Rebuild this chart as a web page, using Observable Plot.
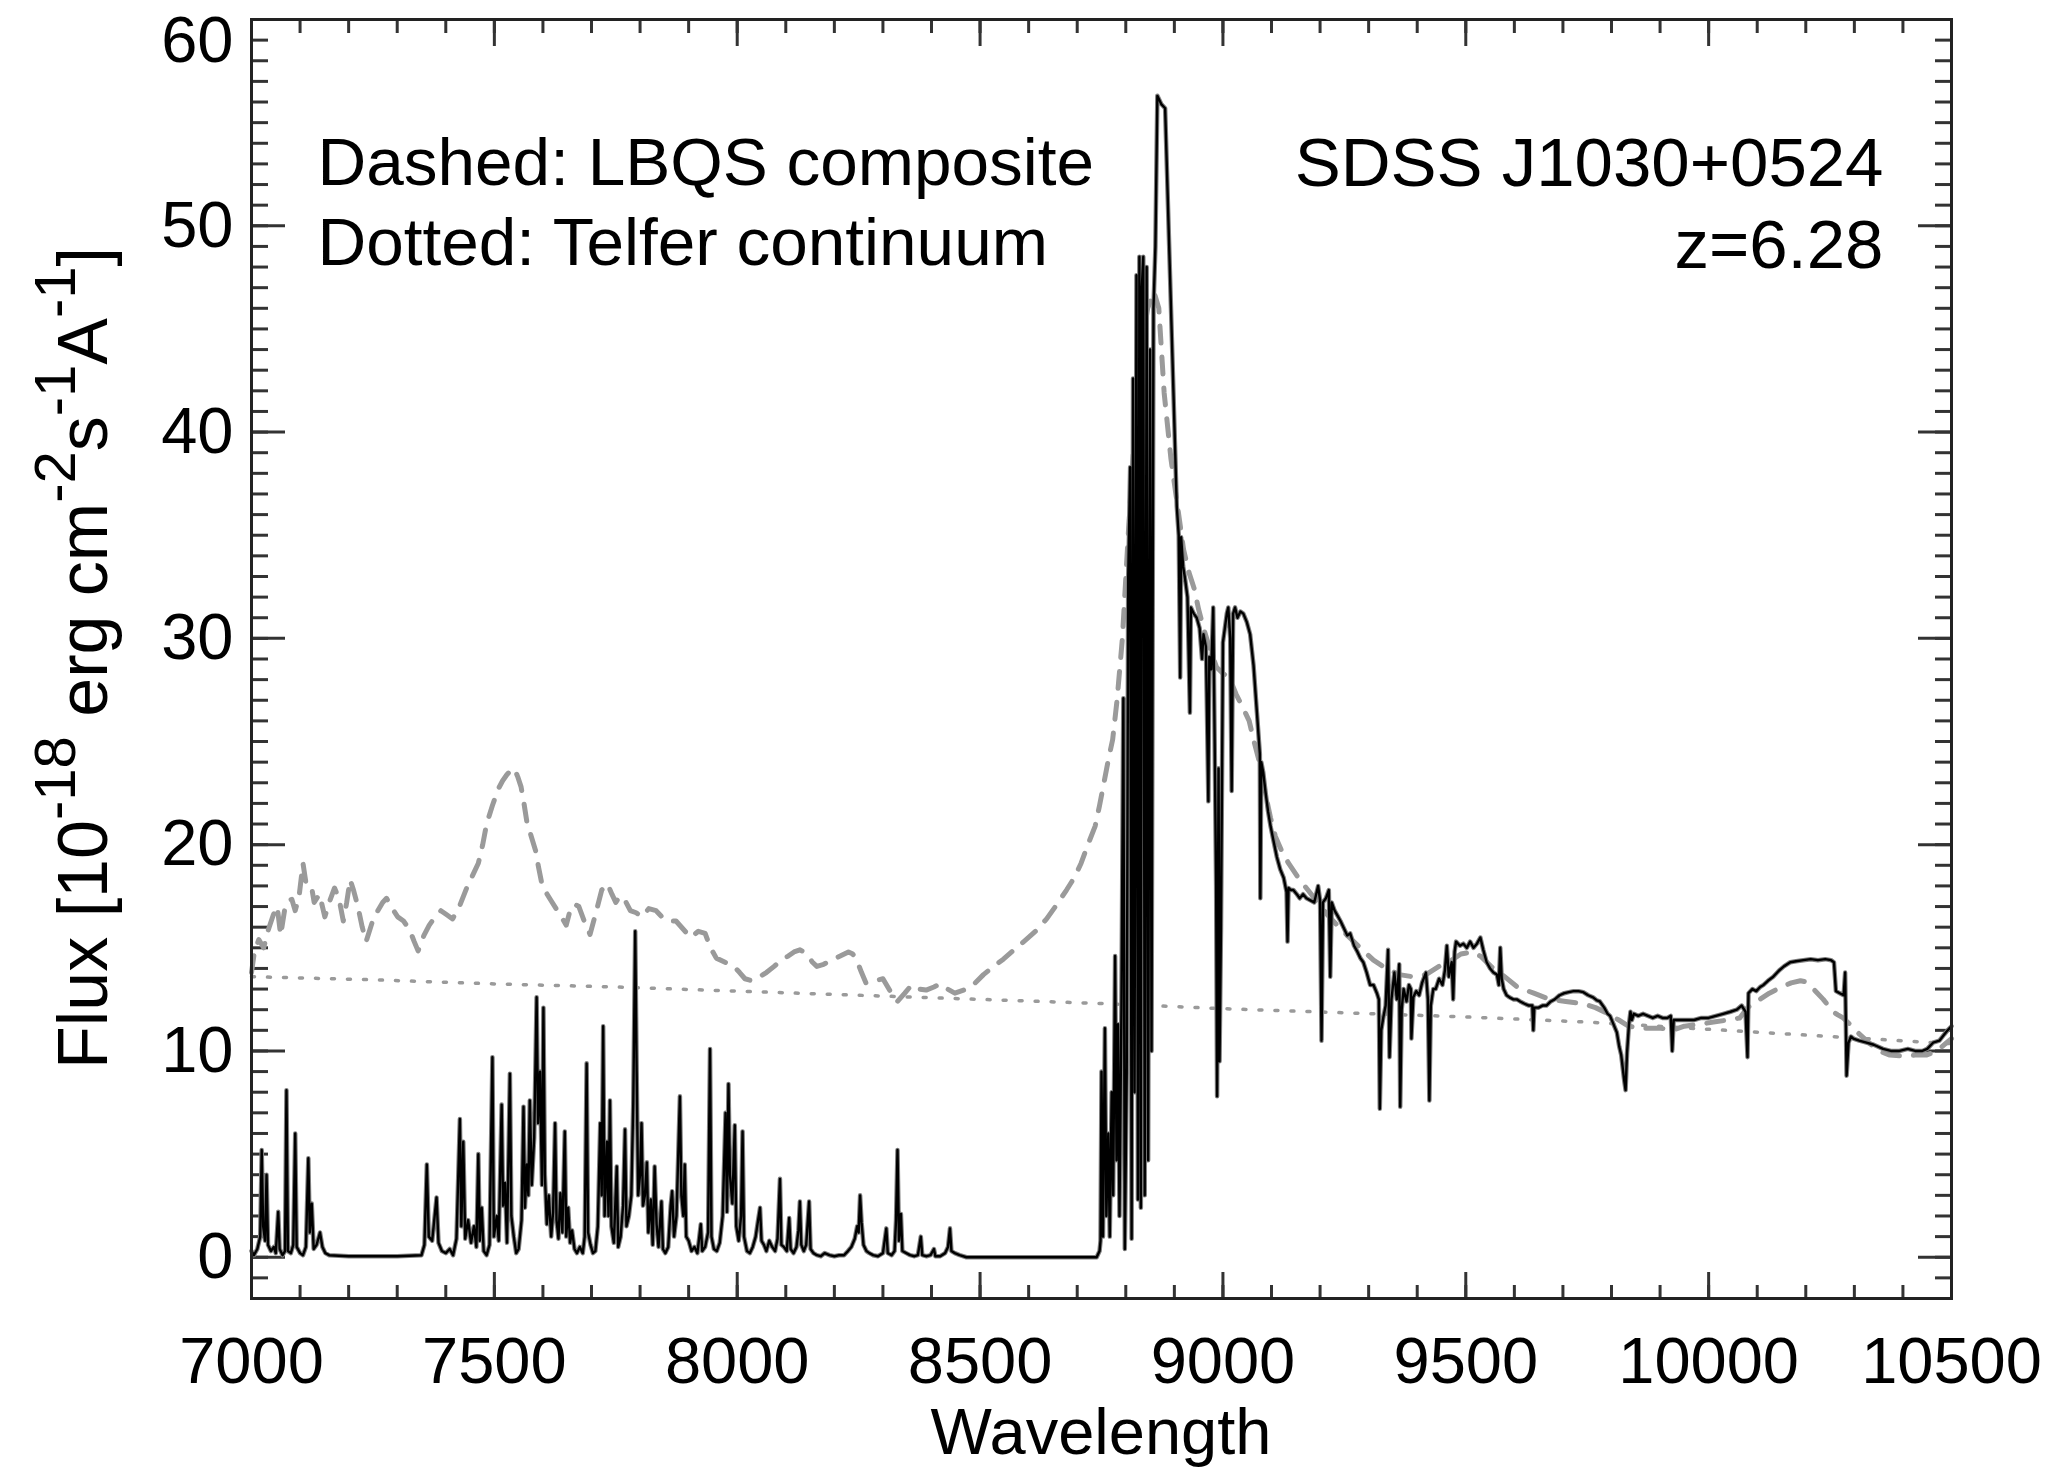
<!DOCTYPE html>
<html>
<head>
<meta charset="utf-8">
<script src="https://cdn.jsdelivr.net/npm/d3@7"></script>
<script src="https://cdn.jsdelivr.net/npm/@observablehq/plot@0.6"></script>
<style>
  html, body { margin: 0; padding: 0; background: #fff; }
  #chart svg { display: block; }
</style>
</head>
<body>
<div id="chart"></div>
<script>
// Observed spectrum of SDSS J1030+0524: [wavelength (Å), flux (1e-18 erg/cm²/s/Å)]
const spectrum = [
  [7000,0.3],[7005,0.1],[7012,0.4],[7018,1.0],[7021,5.2],[7024,1.5],[7028,0.8],[7031,4.0],[7034,0.6],[7040,0.3],
  [7046,0.5],[7050,0.2],[7055,2.2],[7058,0.4],[7064,0.1],[7069,0.3],[7072,8.1],[7075,0.3],[7081,0.2],[7086,0.6],
  [7090,6.0],[7093,0.5],[7100,0.2],[7106,0.1],[7112,0.5],[7117,4.8],[7120,1.2],[7124,2.6],[7128,0.4],[7134,0.6],
  [7141,1.2],[7146,0.5],[7152,0.2],[7160,0.1],[7200,0.05],[7250,0.05],[7300,0.05],[7350,0.1],[7356,0.6],[7361,4.5],
  [7365,1.0],[7372,0.8],[7381,2.9],[7385,0.7],[7392,0.3],[7400,0.2],[7408,0.4],[7415,0.1],[7422,0.9],[7429,6.7],
  [7432,1.5],[7436,5.6],[7440,0.9],[7446,1.8],[7452,0.7],[7458,1.5],[7463,0.5],[7467,5.0],[7470,0.8],[7474,2.4],
  [7478,0.3],[7484,0.1],[7490,0.6],[7496,9.7],[7499,1.0],[7505,2.0],[7509,0.8],[7515,7.4],[7518,2.5],[7522,3.6],
  [7526,0.7],[7532,8.9],[7535,2.0],[7540,1.0],[7545,0.2],[7550,0.4],[7556,1.8],[7560,7.3],[7563,2.4],[7567,4.5],
  [7570,3.0],[7573,7.6],[7577,3.5],[7582,5.8],[7587,12.6],[7590,6.5],[7594,9.0],[7598,3.5],[7601,12.1],[7604,4.0],
  [7608,1.6],[7612,3.0],[7617,1.0],[7621,2.2],[7625,6.5],[7628,1.8],[7632,0.9],[7636,3.1],[7640,1.2],[7645,6.1],
  [7648,1.0],[7652,2.4],[7656,0.7],[7660,1.3],[7665,0.4],[7670,0.2],[7676,0.5],[7682,0.2],[7686,1.0],[7690,9.4],
  [7693,1.2],[7698,0.6],[7703,0.2],[7708,0.3],[7713,1.5],[7718,6.5],[7721,3.0],[7724,11.2],[7727,2.0],[7732,5.6],
  [7735,2.0],[7738,7.6],[7741,1.5],[7746,0.7],[7752,4.4],[7755,0.5],[7760,1.0],[7765,2.5],[7769,6.2],[7772,1.5],
  [7777,2.0],[7782,3.0],[7786,7.5],[7790,15.8],[7793,9.0],[7796,3.0],[7800,4.0],[7803,6.5],[7806,2.5],[7810,3.0],
  [7814,4.6],[7817,1.2],[7822,2.8],[7826,0.6],[7830,4.4],[7834,1.6],[7838,0.5],[7844,2.7],[7847,0.4],[7852,0.2],
  [7858,0.5],[7863,2.5],[7866,3.2],[7870,1.0],[7875,2.0],[7882,7.8],[7885,3.0],[7889,2.0],[7892,4.5],[7895,1.0],
  [7900,0.8],[7906,0.3],[7912,0.5],[7918,0.2],[7925,1.6],[7928,0.3],[7934,0.5],[7940,1.2],[7944,10.1],[7947,1.0],
  [7952,0.4],[7958,0.3],[7964,0.7],[7970,2.0],[7976,7.0],[7979,2.2],[7982,8.4],[7985,4.0],[7990,2.6],[7995,6.4],
  [7998,1.5],[8003,0.8],[8008,2.0],[8011,6.1],[8014,1.0],[8020,0.3],[8026,0.2],[8032,0.5],[8038,1.0],[8043,1.8],
  [8047,2.4],[8050,0.8],[8055,0.6],[8060,0.3],[8066,0.8],[8072,0.5],[8078,0.3],[8083,0.9],[8088,3.8],[8091,0.6],
  [8096,0.5],[8102,0.3],[8107,1.9],[8110,0.4],[8116,0.2],[8122,0.5],[8126,1.3],[8129,2.7],[8132,0.6],[8137,0.3],
  [8142,0.6],[8148,2.7],[8151,0.4],[8157,0.2],[8164,0.1],[8172,0.05],[8180,0.2],[8190,0.1],[8200,0.05],[8210,0.1],
  [8220,0.1],[8228,0.3],[8235,0.5],[8242,0.9],[8247,1.5],[8250,1.2],[8253,3.0],[8256,1.7],[8260,0.6],[8266,0.3],
  [8272,0.2],[8280,0.1],[8290,0.05],[8300,0.2],[8307,1.4],[8310,0.2],[8318,0.1],[8324,0.3],[8327,1.8],[8330,5.2],
  [8333,0.8],[8337,2.1],[8340,0.3],[8348,0.2],[8356,0.1],[8365,0.05],[8372,0.1],[8378,1.0],[8381,0.1],[8390,0.05],
  [8398,0.1],[8405,0.4],[8408,0.05],[8418,0.05],[8428,0.2],[8434,0.5],[8438,1.4],[8441,0.3],[8448,0.2],[8458,0.1],
  [8472,0],[8500,0],[8600,0],[8700,0],[8740,0],[8746,0.3],[8748,0.8],[8750,9.0],[8753,1.0],[8757,11.1],
  [8760,2.0],[8764,6.0],[8767,1.0],[8771,8.0],[8774,3.0],[8778,14.6],[8781,4.7],[8784,11.3],[8787,2.0],[8791,12.0],
  [8795,27.1],[8798,0.4],[8802,9.0],[8805,33.0],[8809,38.3],[8812,0.9],[8815,42.6],[8818,8.0],[8822,47.6],[8825,2.8],
  [8828,48.5],[8831,2.4],[8833,47.0],[8836,48.5],[8839,3.0],[8843,48.0],[8846,4.7],[8850,44.0],[8853,10.0],[8857,46.0],
  [8861,49.0],[8865,56.3],[8873,55.9],[8881,55.7],[8905,36.4],[8909,35.0],[8912,28.1],[8914,34.9],[8918,33.5],[8922,32.9],
  [8927,32.0],[8932,26.4],[8934,31.5],[8940,31.2],[8946,31.0],[8952,30.5],[8957,29.0],[8960,30.2],[8965,29.6],[8970,22.1],
  [8972,29.1],[8976,28.5],[8980,31.5],[8983,25.0],[8986,18.0],[8988,7.8],[8991,23.7],[8993,9.5],[8996,16.0],[9000,29.8],
  [9004,30.5],[9008,31.2],[9011,31.5],[9015,30.0],[9018,22.6],[9021,31.2],[9025,31.5],[9030,31.0],[9036,31.3],[9042,31.2],
  [9049,30.8],[9056,30.2],[9063,28.7],[9070,26.4],[9076,24.4],[9077,17.4],[9079,24.0],[9083,23.5],[9088,22.5],[9093,21.6],
  [9098,20.9],[9104,20.2],[9111,19.4],[9118,18.8],[9125,18.4],[9131,17.7],[9133,15.3],[9135,17.9],[9140,17.8],[9145,17.8],
  [9152,17.6],[9158,17.4],[9165,17.6],[9172,17.4],[9180,17.3],[9188,17.2],[9196,18.0],[9200,17.3],[9203,10.5],[9206,17.2],
  [9212,17.4],[9218,17.8],[9221,13.6],[9224,17.2],[9230,16.8],[9235,16.6],[9242,16.3],[9250,15.9],[9256,15.6],[9262,15.7],
  [9270,15.1],[9277,14.8],[9283,14.5],[9289,14.3],[9296,13.8],[9303,13.2],[9310,13.2],[9317,12.8],[9321,12.5],[9323,7.2],
  [9326,11.0],[9330,11.6],[9335,12.2],[9340,14.9],[9343,9.7],[9347,12.5],[9353,13.8],[9358,12.5],[9363,14.2],[9365,7.3],
  [9368,12.0],[9372,13.0],[9378,12.4],[9383,13.2],[9387,13.0],[9388,10.6],[9392,12.6],[9398,12.9],[9404,12.7],[9410,13.3],
  [9418,13.8],[9422,12.5],[9425,7.6],[9428,12.2],[9433,13.0],[9438,13.0],[9445,13.5],[9452,13.2],[9457,13.9],[9461,15.1],
  [9465,13.6],[9471,14.3],[9474,12.5],[9477,14.8],[9480,15.3],[9488,15.1],[9495,15.2],[9502,15.0],[9509,15.3],[9516,15.0],
  [9523,15.2],[9530,15.5],[9536,14.9],[9543,14.3],[9550,14.0],[9557,13.8],[9564,13.7],[9568,13.2],[9571,15.0],[9574,13.5],
  [9578,13.0],[9584,12.7],[9590,12.6],[9598,12.5],[9605,12.5],[9612,12.4],[9620,12.3],[9630,12.2],[9637,12.2],[9639,11.0],
  [9641,12.1],[9650,12.1],[9658,12.2],[9666,12.2],[9675,12.4],[9683,12.5],[9693,12.7],[9703,12.8],[9712,12.85],[9722,12.9],
  [9732,12.9],[9742,12.85],[9752,12.7],[9762,12.6],[9770,12.45],[9776,12.4],[9785,12.1],[9792,11.8],[9797,11.7],[9804,11.3],
  [9811,10.9],[9816,10.2],[9820,9.8],[9823,9.2],[9826,8.6],[9829,8.1],[9832,9.9],[9836,11.3],[9839,11.9],[9842,11.5],
  [9846,11.8],[9855,11.7],[9865,11.8],[9875,11.7],[9885,11.6],[9895,11.7],[9905,11.6],[9915,11.6],[9922,11.7],[9925,10.0],
  [9928,11.5],[9940,11.5],[9955,11.5],[9970,11.5],[9985,11.6],[10000,11.6],[10015,11.7],[10030,11.8],[10045,11.9],[10058,12.0],
  [10068,12.2],[10076,11.9],[10080,9.7],[10082,12.8],[10090,13.0],[10098,12.9],[10106,13.1],[10113,13.2],[10122,13.4],[10133,13.6],
  [10145,13.9],[10155,14.1],[10168,14.3],[10180,14.35],[10195,14.4],[10210,14.45],[10225,14.4],[10240,14.45],[10252,14.4],[10258,14.3],
  [10262,12.9],[10270,12.8],[10278,12.7],[10281,13.8],[10284,8.8],[10288,10.4],[10293,10.7],[10298,10.6],[10310,10.5],[10325,10.4],
  [10340,10.3],[10359,10.1],[10375,10.0],[10393,10.0],[10410,10.1],[10425,10.0],[10440,10.0],[10450,10.1],[10462,10.4],[10475,10.5],
  [10485,10.8],[10492,11.0],[10500,11.2]
];

// LBQS composite quasar spectrum, redshifted and scaled
const lbqsComposite = [
  [7000,13.8],[7006,14.8],[7015,15.4],[7025,15.0],[7035,15.9],[7045,16.6],[7053,17.0],[7060,15.6],[7068,16.8],[7076,17.3],
  [7083,17.35],[7090,16.8],[7098,17.5],[7106,19.1],[7113,18.0],[7124,17.9],[7129,17.2],[7140,17.6],[7151,16.5],[7160,17.2],
  [7171,17.9],[7180,17.4],[7189,16.3],[7196,17.2],[7203,18.3],[7210,17.8],[7219,17.0],[7228,16.0],[7236,15.3],[7248,16.2],
  [7260,16.8],[7270,17.2],[7278,17.4],[7290,16.9],[7301,16.5],[7313,16.3],[7325,15.9],[7335,15.3],[7343,14.85],[7355,15.6],
  [7366,16.1],[7378,16.5],[7390,16.8],[7402,16.6],[7414,16.4],[7428,17.0],[7443,17.9],[7455,18.5],[7467,19.1],[7476,20.0],
  [7484,21.0],[7496,21.9],[7508,22.7],[7517,23.1],[7526,23.4],[7534,23.6],[7541,23.7],[7548,23.3],[7555,22.8],[7561,22.0],
  [7567,21.1],[7576,20.4],[7585,19.7],[7591,18.9],[7597,18.2],[7606,17.7],[7615,17.35],[7627,16.9],[7638,16.5],[7648,16.1],
  [7658,17.0],[7666,17.1],[7674,17.0],[7685,16.3],[7697,15.65],[7709,16.7],[7721,17.8],[7733,18.1],[7742,17.6],[7750,17.2],
  [7758,17.5],[7768,17.35],[7780,16.8],[7792,16.7],[7804,16.5],[7818,16.9],[7833,16.8],[7845,16.5],[7857,16.3],[7874,16.3],
  [7889,15.9],[7904,15.5],[7920,15.8],[7934,15.7],[7945,15.0],[7957,14.5],[7975,14.3],[7993,14.1],[8005,13.8],[8016,13.5],
  [8030,13.4],[8046,13.6],[8060,13.8],[8076,14.1],[8090,14.4],[8105,14.6],[8117,14.8],[8129,14.9],[8138,14.8],[8146,14.6],
  [8155,14.3],[8164,14.1],[8178,14.2],[8194,14.4],[8212,14.6],[8229,14.8],[8238,14.7],[8246,14.4],[8256,13.8],[8265,13.3],
  [8282,13.4],[8300,13.5],[8315,12.9],[8330,12.4],[8345,12.8],[8359,13.2],[8375,13.0],[8389,12.95],[8405,13.1],[8418,13.25],
  [8433,13.0],[8448,12.8],[8460,12.9],[8472,13.0],[8490,13.3],[8507,13.7],[8528,14.1],[8548,14.45],[8570,14.9],[8590,15.3],
  [8614,15.8],[8637,16.4],[8658,17.1],[8678,17.8],[8694,18.4],[8708,19.1],[8722,20.0],[8737,20.9],[8746,21.9],[8755,23.0],
  [8764,24.1],[8773,25.1],[8782,27.0],[8793,30.0],[8805,35.0],[8818,40.0],[8832,44.0],[8845,46.0],[8858,46.8],[8868,46.0],
  [8879,41.9],[8893,38.7],[8906,36.5],[8919,34.3],[8930,33.2],[8941,32.4],[8950,31.4],[8960,30.5],[8973,29.5],[8987,28.6],
  [9000,28.3],[9013,28.1],[9027,27.3],[9040,26.7],[9054,26.0],[9064,25.0],[9073,24.2],[9081,23.2],[9089,22.3],[9098,21.3],
  [9108,20.4],[9121,19.7],[9135,19.1],[9155,18.4],[9175,17.8],[9195,17.2],[9215,16.6],[9235,16.1],[9256,15.6],[9283,15.0],
  [9310,14.4],[9336,14.0],[9363,13.7],[9390,13.6],[9418,13.7],[9445,14.1],[9471,14.4],[9490,14.7],[9512,14.8],[9530,14.6],
  [9552,14.1],[9580,13.6],[9606,13.1],[9640,12.8],[9673,12.5],[9706,12.4],[9740,12.3],[9767,12.1],[9794,11.8],[9815,11.5],
  [9835,11.2],[9860,11.1],[9880,11.1],[9902,11.1],[9925,11.0],[9950,11.2],[9983,11.3],[10010,11.4],[10040,11.5],[10064,11.6],
  [10080,12.1],[10099,12.4],[10125,12.8],[10150,13.1],[10170,13.3],[10189,13.4],[10200,13.35],[10216,13.0],[10236,12.5],[10256,11.9],
  [10266,11.75],[10277,11.6],[10295,11.2],[10311,10.8],[10330,10.4],[10350,10.0],[10373,9.8],[10400,9.75],[10425,9.8],[10448,9.8],
  [10470,10.0],[10490,10.4],[10500,10.6]
];

// Telfer et al. power-law continuum
const telferContinuum = [
  [7000,13.6],[7250,13.45],[7500,13.25],[7750,13.1],[8000,12.9],[8250,12.7],[8500,12.5],[8750,12.3],
  [9000,12.05],[9250,11.85],[9500,11.65],[9750,11.4],[10000,11.05],[10250,10.7],[10500,10.35]
];

const xMajorTicks = [7000, 7500, 8000, 8500, 9000, 9500, 10000, 10500];
const xMinorTicks = d3.range(7000, 10501, 100);
const yMajorTicks = [0, 10, 20, 30, 40, 50, 60];
const yMinorTicks = d3.range(-2, 61, 1);

const legendLines = ["Dashed: LBQS composite\nDotted: Telfer continuum"];
const objectLines = ["SDSS J1030+0524\nz=6.28"];

const font = "'Liberation Sans', Arial, Helvetica, sans-serif";
const rows = pairs => pairs.map(([w, f]) => ({w, f}));

const tickStroke = {stroke: "#333", strokeWidth: 3, fill: "none", label: null};
const labelStyle = {tickSize: 0, tickFormat: d => String(d), fill: "#000", label: null};

const chart = Plot.plot({
  width: 2050,
  height: 1468,
  marginLeft: 251,
  marginRight: 99,
  marginTop: 19,
  marginBottom: 170,
  style: {fontFamily: font, fontSize: "65px", color: "#000", background: "#fff"},
  x: {domain: [7000, 10500]},
  y: {domain: [-2, 60]},
  marks: [
    // inward-pointing minor and major ticks on all four sides
    Plot.axisX({anchor: "bottom", ticks: xMinorTicks, tickSize: -13, ...tickStroke}),
    Plot.axisX({anchor: "bottom", ticks: xMajorTicks, tickSize: -26, ...tickStroke}),
    Plot.axisX({anchor: "top", ticks: xMinorTicks, tickSize: -13, ...tickStroke}),
    Plot.axisX({anchor: "top", ticks: xMajorTicks, tickSize: -26, ...tickStroke}),
    Plot.axisY({anchor: "left", ticks: yMinorTicks, tickSize: -17, ...tickStroke}),
    Plot.axisY({anchor: "left", ticks: yMajorTicks, tickSize: -34, ...tickStroke}),
    Plot.axisY({anchor: "right", ticks: yMinorTicks, tickSize: -17, ...tickStroke}),
    Plot.axisY({anchor: "right", ticks: yMajorTicks, tickSize: -34, ...tickStroke}),
    // tick labels (the topmost one is nudged down to stay inside the page)
    Plot.axisX({anchor: "bottom", ticks: xMajorTicks, tickPadding: 38, ...labelStyle}),
    Plot.axisY({anchor: "left", ticks: yMajorTicks.slice(0, -1), tickPadding: 18, ...labelStyle}),
    Plot.axisY({anchor: "left", ticks: yMajorTicks.slice(-1), tickPadding: 18, dy: 22, ...labelStyle}),
    // model curves
    Plot.line(rows(telferContinuum), {x: "w", y: "f", stroke: "#9a9a9a", strokeWidth: 3.5,
      strokeDasharray: "3,13"}),
    Plot.line(rows(lbqsComposite), {x: "w", y: "f", stroke: "#9a9a9a", strokeWidth: 5,
      strokeDasharray: "17,14"}),
    // observed spectrum: grey halo under a black core
    Plot.line(rows(spectrum), {x: "w", y: "f", stroke: "#808080", strokeWidth: 4.5}),
    Plot.line(rows(spectrum), {x: "w", y: "f", stroke: "#000", strokeWidth: 2.4}),
    // annotations
    Plot.text(legendLines, {text: d => d, frameAnchor: "top-left", dx: 66, dy: 109,
      lineAnchor: "top", lineHeight: 1.18, textAnchor: "start", fontSize: 67.5, fill: "#000"}),
    Plot.text(objectLines, {text: d => d, frameAnchor: "top-right", dx: -68, dy: 109,
      lineAnchor: "top", lineHeight: 1.18, textAnchor: "end", fontSize: 69, fill: "#000"}),
    Plot.frame({stroke: "#222", strokeWidth: 3})
  ]
});

document.getElementById("chart").appendChild(chart);

// axis titles, with superscripts on the flux units
const svg = d3.select(chart);
svg.append("text")
  .attr("x", 1101).attr("y", 1454)
  .attr("text-anchor", "middle")
  .attr("font-family", font).attr("font-size", 65).attr("fill", "#000")
  .text("Wavelength");

const yTitle = svg.append("text")
  .attr("transform", "translate(107,658) rotate(-90)")
  .attr("text-anchor", "middle")
  .attr("font-family", font).attr("font-size", 70).attr("fill", "#000");
const yParts = [
  ["Flux [10", false], ["-18", true], [" erg cm", false], ["-2", true],
  ["s", false], ["-1", true], ["A", false], ["-1", true], ["]", false]
];
let raised = false;
for (const [t, sup] of yParts) {
  const span = yTitle.append("tspan").text(t);
  if (sup) span.attr("font-size", 58);
  if (sup && !raised) { span.attr("dy", -32); raised = true; }
  else if (!sup && raised) { span.attr("dy", 32); raised = false; }
}
</script>
</body>
</html>
